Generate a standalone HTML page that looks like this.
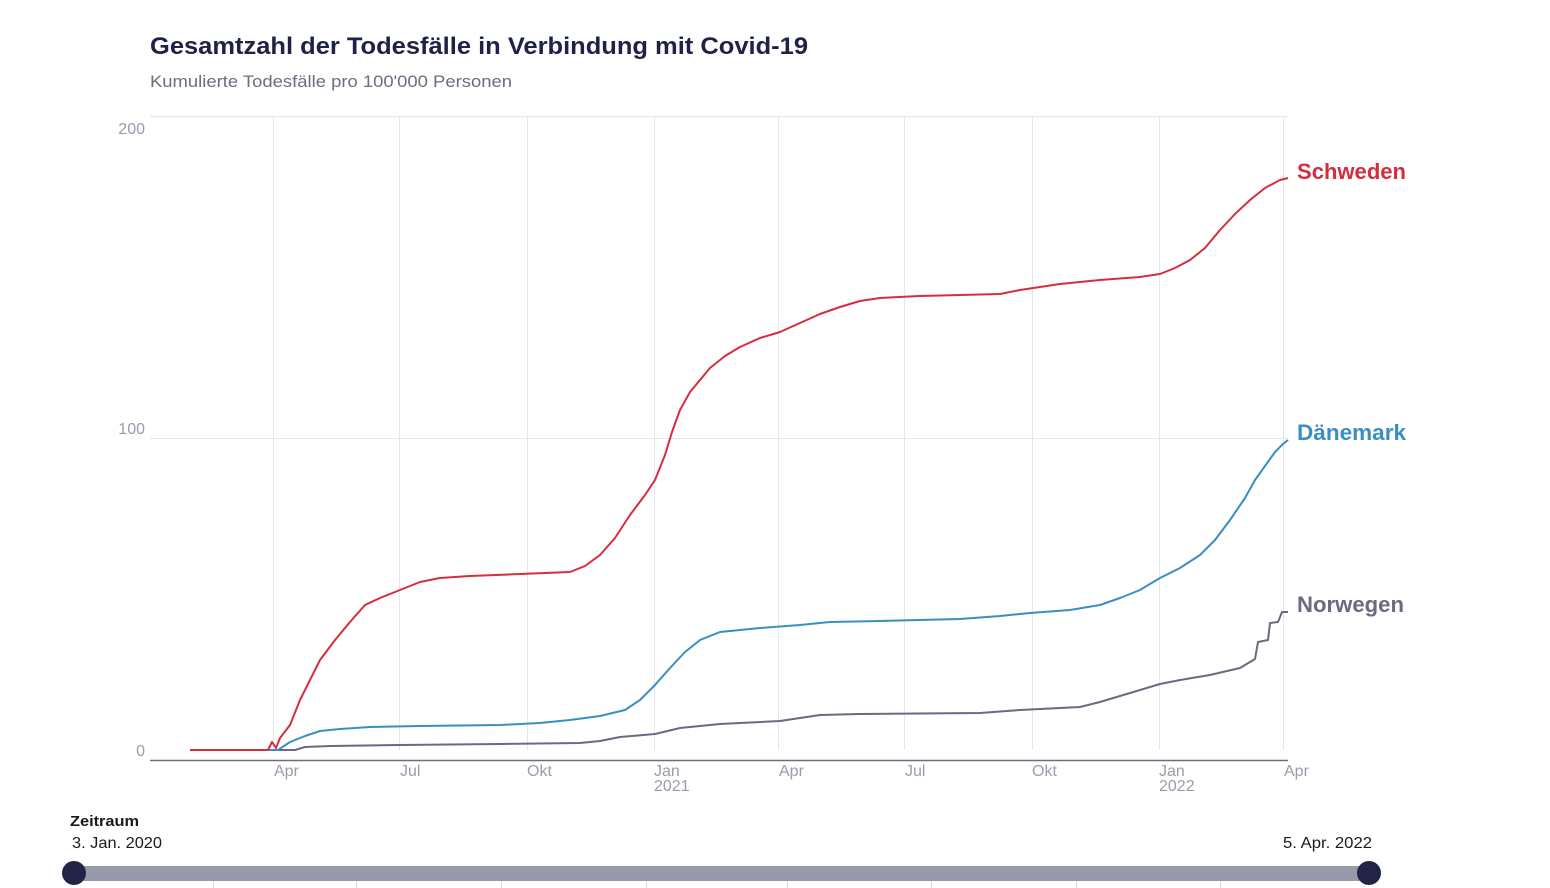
<!DOCTYPE html>
<html><head><meta charset="utf-8"><style>
html,body{margin:0;padding:0;background:#fff;}
svg{display:block;font-family:"Liberation Sans",sans-serif;}
</style></head><body>
<svg width="1550" height="888" viewBox="0 0 1550 888">
<text x="150" y="54" font-size="24" font-weight="bold" fill="#1f2147" textLength="658" lengthAdjust="spacingAndGlyphs">Gesamtzahl der Todesfälle in Verbindung mit Covid-19</text>
<text x="150" y="87" font-size="17" fill="#6b6e7e" textLength="362" lengthAdjust="spacingAndGlyphs">Kumulierte Todesfälle pro 100'000 Personen</text>
<g stroke="#e6e6ea" stroke-width="1">
<line x1="150" y1="116.5" x2="1288" y2="116.5"/>
<line x1="150" y1="438.5" x2="1288" y2="438.5"/>
<line x1="273.5" y1="116" x2="273.5" y2="750"/><line x1="399.5" y1="116" x2="399.5" y2="750"/>
<line x1="527.5" y1="116" x2="527.5" y2="750"/><line x1="654.5" y1="116" x2="654.5" y2="750"/>
<line x1="778.5" y1="116" x2="778.5" y2="750"/><line x1="904.5" y1="116" x2="904.5" y2="750"/>
<line x1="1032.5" y1="116" x2="1032.5" y2="750"/><line x1="1159.5" y1="116" x2="1159.5" y2="750"/>
<line x1="1283.5" y1="116" x2="1283.5" y2="750"/>
</g>
<line x1="150" y1="760.5" x2="1288" y2="760.5" stroke="#6b6e7e" stroke-width="1.5"/>
<g font-size="16" fill="#9a9cab">
<text x="145" y="134" text-anchor="end">200</text>
<text x="145" y="434" text-anchor="end">100</text>
<text x="145" y="756" text-anchor="end">0</text>
<text x="274" y="776">Apr</text><text x="400" y="776">Jul</text><text x="527" y="776">Okt</text>
<text x="654" y="776">Jan</text><text x="654" y="791">2021</text>
<text x="779" y="776">Apr</text><text x="905" y="776">Jul</text><text x="1032" y="776">Okt</text>
<text x="1159" y="776">Jan</text><text x="1159" y="791">2022</text>
<text x="1284" y="776">Apr</text>
</g>
<g fill="none" stroke-width="2" stroke-linejoin="round">
<polyline stroke="#6a6a80" points="190,750 295,750 305,747 330,746 400,745 500,744 580,743 600,741 620,737 655,734 680,728 720,724 780,721 800,718 820,715 860,714 980,713 1020,710 1080,707 1100,702 1120,696 1140,690 1160,684 1180,680 1210,675 1240,668 1255,659 1258,642 1268,640 1270,623 1278,622 1282,612 1288,612"/>
<polyline stroke="#3a8fc0" points="190,750 278,750 290,742 305,736 320,731 340,729 370,727 420,726 500,725 540,723 570,720 600,716 625,710 640,700 655,685 670,668 685,652 700,640 720,632 760,628 800,625 830,622 880,621 960,619 1000,616 1030,613 1070,610 1100,605 1120,598 1140,590 1160,578 1180,568 1200,555 1215,540 1230,520 1245,498 1255,480 1265,466 1275,452 1283,444 1288,440"/>
<polyline stroke="#d62d3e" points="190,750 268,750 272,742 276,748 280,738 290,725 300,700 310,680 320,660 335,640 350,622 365,605 380,598 400,590 420,582 440,578 470,576 520,574 570,572 585,566 600,555 615,538 630,515 645,495 655,480 665,455 672,432 680,410 690,392 700,380 710,368 725,356 740,347 760,338 780,332 800,323 820,314 840,307 860,301 880,298 920,296 1000,294 1020,290 1060,284 1100,280 1140,277 1160,274 1175,268 1190,260 1205,248 1220,230 1235,214 1250,200 1265,188 1280,180 1288,178"/>
</g>
<g font-size="22" font-weight="bold">
<text x="1297" y="179" fill="#d62d3e" textLength="109" lengthAdjust="spacingAndGlyphs">Schweden</text>
<text x="1297" y="440" fill="#3a8fc0" textLength="109" lengthAdjust="spacingAndGlyphs">Dänemark</text>
<text x="1297" y="612" fill="#6a6a80" textLength="107" lengthAdjust="spacingAndGlyphs">Norwegen</text>
</g>
<text x="70" y="826" font-size="15" font-weight="bold" fill="#1a1a1a" textLength="69" lengthAdjust="spacingAndGlyphs">Zeitraum</text>
<text x="72" y="848" font-size="16" fill="#1a1a1a" textLength="90" lengthAdjust="spacingAndGlyphs">3. Jan. 2020</text>
<text x="1283" y="848" font-size="16" fill="#1a1a1a" textLength="89" lengthAdjust="spacingAndGlyphs">5. Apr. 2022</text>
<rect x="74" y="866" width="1295" height="15" fill="#979aa8"/>
<g stroke="#d8d8de" stroke-width="1">
<line x1="213.5" y1="881" x2="213.5" y2="888"/><line x1="356.5" y1="881" x2="356.5" y2="888"/>
<line x1="501.5" y1="881" x2="501.5" y2="888"/><line x1="646.5" y1="881" x2="646.5" y2="888"/>
<line x1="787.5" y1="881" x2="787.5" y2="888"/><line x1="931.5" y1="881" x2="931.5" y2="888"/>
<line x1="1076.5" y1="881" x2="1076.5" y2="888"/><line x1="1220.5" y1="881" x2="1220.5" y2="888"/>
</g>
<circle cx="74" cy="873" r="12" fill="#222447"/>
<circle cx="1369" cy="873" r="12" fill="#222447"/>
</svg>
</body></html>
